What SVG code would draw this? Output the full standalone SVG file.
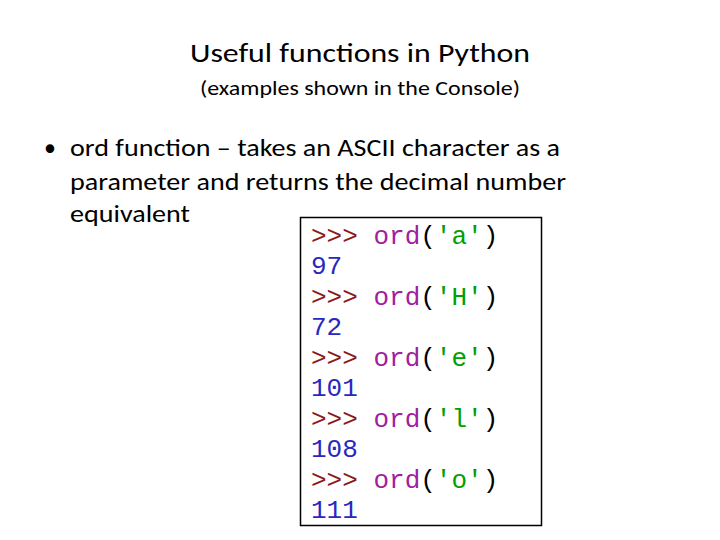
<svg xmlns="http://www.w3.org/2000/svg" width="720" height="540" viewBox="0 0 720 540">
<style>
.t{font-family:Calibri,Carlito,"Liberation Sans",sans-serif;fill:#000}
.m{font-family:"Liberation Mono","DejaVu Sans Mono",monospace;font-size:26px}
.p{fill:#8b1a1a}.f{fill:#a020a0}.s{fill:#00a000}.n{fill:#2828c0}.k{fill:#000}
</style>
<rect width="720" height="540" fill="#fff"/>
<g id="title">
<text class="t" x="360" y="62" font-size="27" text-anchor="middle" textLength="340" lengthAdjust="spacingAndGlyphs">Useful functions in Python</text>
<text class="t" x="360" y="95" font-size="20" text-anchor="middle" textLength="320" lengthAdjust="spacingAndGlyphs">(examples shown in the Console)</text>
</g>
<g id="bullet">
<text class="t" x="44" y="156" font-size="24">•</text>
<text class="t" x="70" y="156" font-size="24" textLength="490" lengthAdjust="spacingAndGlyphs">ord function – takes an ASCII character as a</text>
<text class="t" x="70" y="190" font-size="24" textLength="496" lengthAdjust="spacingAndGlyphs">parameter and returns the decimal number</text>
<text class="t" x="70" y="222" font-size="24" textLength="120" lengthAdjust="spacingAndGlyphs">equivalent</text>
</g>
<g id="console">
<rect x="300.5" y="217.5" width="241" height="308" fill="#fff" stroke="#000" stroke-width="1.5"/>
<g class="m">
<text x="311" y="244"><tspan class="p">&gt;&gt;&gt; </tspan><tspan class="f">ord</tspan><tspan class="k">(</tspan><tspan class="s">'a'</tspan><tspan class="k">)</tspan></text>
<text x="311" y="274" class="n">97</text>
<text x="311" y="305"><tspan class="p">&gt;&gt;&gt; </tspan><tspan class="f">ord</tspan><tspan class="k">(</tspan><tspan class="s">'H'</tspan><tspan class="k">)</tspan></text>
<text x="311" y="335" class="n">72</text>
<text x="311" y="366"><tspan class="p">&gt;&gt;&gt; </tspan><tspan class="f">ord</tspan><tspan class="k">(</tspan><tspan class="s">'e'</tspan><tspan class="k">)</tspan></text>
<text x="311" y="396" class="n">101</text>
<text x="311" y="427"><tspan class="p">&gt;&gt;&gt; </tspan><tspan class="f">ord</tspan><tspan class="k">(</tspan><tspan class="s">'l'</tspan><tspan class="k">)</tspan></text>
<text x="311" y="457" class="n">108</text>
<text x="311" y="488"><tspan class="p">&gt;&gt;&gt; </tspan><tspan class="f">ord</tspan><tspan class="k">(</tspan><tspan class="s">'o'</tspan><tspan class="k">)</tspan></text>
<text x="311" y="518" class="n">111</text>
</g>
</g>
</svg>
